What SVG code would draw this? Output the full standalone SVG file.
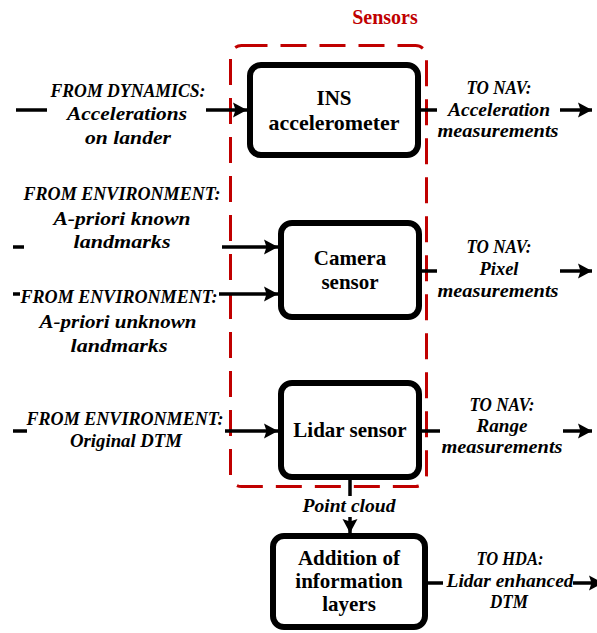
<svg xmlns="http://www.w3.org/2000/svg" width="597" height="633" viewBox="0 0 597 633">
  <style>
    .box { fill: #fff; stroke: #000; stroke-width: 6; }
    .boxtxt { font-family: "Liberation Serif", "Times New Roman", serif; font-weight: bold; font-size: 21px; text-anchor: middle; fill: #000; }
    .lbl { font-family: "Liberation Serif", "Times New Roman", serif; font-weight: bold; font-style: italic; font-size: 18.5px; text-anchor: middle; fill: #000; }
    .wire { stroke: #000; stroke-width: 3.5; fill: none; }
    .arrow { stroke: #000; stroke-width: 3.5; fill: none; marker-end: url(#head); }
    .group { fill: none; stroke: #C00000; stroke-width: 3; stroke-dasharray: 26 13; }
    .grouptxt { font-family: "Liberation Serif", "Times New Roman", serif; font-weight: bold; font-size: 20px; text-anchor: middle; fill: #C00000; }
  </style>
  <defs>
    <marker id="head" markerUnits="userSpaceOnUse" markerWidth="15" markerHeight="16" refX="14" refY="8" orient="auto">
      <path d="M0,0.5 L14,8 L0,15.5 L2.5,8 Z" fill="#000"/>
    </marker>
  </defs>

  <rect width="597" height="633" fill="#fff"/>

  <!-- Sensors boundary -->
  <g id="sensors-group">
    <rect class="group" x="230.5" y="45.5" width="196" height="441" rx="11"/>
    <text class="grouptxt" x="385" y="24">Sensors</text>
  </g>

  <!-- Connectors -->
  <g id="connectors">
    <!-- INS accelerometer -->
    <line class="wire" x1="16" y1="110" x2="47" y2="110"/>
    <line class="arrow" x1="206" y1="110" x2="247" y2="110"/>
    <line class="wire" x1="421" y1="110" x2="437" y2="110"/>
    <line class="arrow" x1="560" y1="110" x2="592" y2="110"/>
    <!-- Camera sensor -->
    <line class="wire" x1="13" y1="247" x2="24" y2="247"/>
    <line class="arrow" x1="222" y1="247" x2="278" y2="247"/>
    <line class="wire" x1="13" y1="294" x2="20" y2="294"/>
    <line class="arrow" x1="219" y1="294" x2="278" y2="294"/>
    <line class="wire" x1="422" y1="271" x2="437" y2="271"/>
    <line class="arrow" x1="560" y1="271" x2="592" y2="271"/>
    <!-- Lidar sensor -->
    <line class="wire" x1="13" y1="431" x2="27" y2="431"/>
    <line class="arrow" x1="225" y1="431" x2="278" y2="431"/>
    <line class="wire" x1="422" y1="431" x2="440" y2="431"/>
    <line class="arrow" x1="563" y1="431" x2="592" y2="431"/>
    <!-- Point cloud -->
    <line class="wire" x1="350" y1="480" x2="350" y2="496"/>
    <line class="arrow" x1="350" y1="517" x2="350" y2="533"/>
    <!-- Addition of information layers -->
    <line class="wire" x1="428" y1="583" x2="443" y2="583"/>
    <line class="arrow" x1="573" y1="583" x2="603" y2="583"/>
  </g>

  <!-- Nodes -->
  <g id="ins">
    <rect class="box" x="250" y="65" width="168" height="90" rx="11"/>
    <text class="boxtxt" x="334" y="105">INS</text>
    <text class="boxtxt" x="334" y="130" textLength="131" lengthAdjust="spacingAndGlyphs">accelerometer</text>
  </g>

  <g id="camera">
    <rect class="box" x="281" y="223" width="138" height="94" rx="11"/>
    <text class="boxtxt" x="350" y="265">Camera</text>
    <text class="boxtxt" x="350" y="289">sensor</text>
  </g>

  <g id="lidar">
    <rect class="box" x="281" y="383" width="138" height="94" rx="11"/>
    <text class="boxtxt" x="350" y="437">Lidar sensor</text>
  </g>

  <g id="addition">
    <rect class="box" x="273" y="536" width="152" height="91" rx="11"/>
    <text class="boxtxt" x="349" y="565">Addition of</text>
    <text class="boxtxt" x="349" y="588">information</text>
    <text class="boxtxt" x="349" y="611">layers</text>
  </g>

  <!-- Labels -->
  <g id="labels">
    <text class="lbl" x="128" y="97" textLength="155" lengthAdjust="spacingAndGlyphs">FROM DYNAMICS:</text>
    <text class="lbl" x="127" y="120" textLength="120" lengthAdjust="spacingAndGlyphs">Accelerations</text>
    <text class="lbl" x="128" y="144" textLength="86" lengthAdjust="spacingAndGlyphs">on lander</text>

    <text class="lbl" x="499" y="94" textLength="65" lengthAdjust="spacingAndGlyphs">TO NAV:</text>
    <text class="lbl" x="499" y="116" textLength="102" lengthAdjust="spacingAndGlyphs">Acceleration</text>
    <text class="lbl" x="498" y="137" textLength="121" lengthAdjust="spacingAndGlyphs">measurements</text>

    <text class="lbl" x="122" y="200" textLength="197" lengthAdjust="spacingAndGlyphs">FROM ENVIRONMENT:</text>
    <text class="lbl" x="122" y="225" textLength="137" lengthAdjust="spacingAndGlyphs">A-priori known</text>
    <text class="lbl" x="122" y="248" textLength="97" lengthAdjust="spacingAndGlyphs">landmarks</text>

    <text class="lbl" x="119" y="303" textLength="197" lengthAdjust="spacingAndGlyphs">FROM ENVIRONMENT:</text>
    <text class="lbl" x="118" y="328" textLength="157" lengthAdjust="spacingAndGlyphs">A-priori unknown</text>
    <text class="lbl" x="119" y="352" textLength="97" lengthAdjust="spacingAndGlyphs">landmarks</text>

    <text class="lbl" x="499" y="253" textLength="65" lengthAdjust="spacingAndGlyphs">TO NAV:</text>
    <text class="lbl" x="499" y="275" textLength="39" lengthAdjust="spacingAndGlyphs">Pixel</text>
    <text class="lbl" x="498" y="297" textLength="121" lengthAdjust="spacingAndGlyphs">measurements</text>

    <text class="lbl" x="125" y="425" textLength="197" lengthAdjust="spacingAndGlyphs">FROM ENVIRONMENT:</text>
    <text class="lbl" x="126" y="447" textLength="112" lengthAdjust="spacingAndGlyphs">Original DTM</text>

    <text class="lbl" x="502" y="411" textLength="65" lengthAdjust="spacingAndGlyphs">TO NAV:</text>
    <text class="lbl" x="502" y="432" textLength="51" lengthAdjust="spacingAndGlyphs">Range</text>
    <text class="lbl" x="502" y="453" textLength="121" lengthAdjust="spacingAndGlyphs">measurements</text>

    <text class="lbl" x="349" y="512" textLength="93" lengthAdjust="spacingAndGlyphs">Point cloud</text>

    <text class="lbl" x="510" y="565" textLength="67" lengthAdjust="spacingAndGlyphs">TO HDA:</text>
    <text class="lbl" x="510" y="587" textLength="127" lengthAdjust="spacingAndGlyphs">Lidar enhanced</text>
    <text class="lbl" x="509" y="608" textLength="38" lengthAdjust="spacingAndGlyphs">DTM</text>
  </g>
</svg>
